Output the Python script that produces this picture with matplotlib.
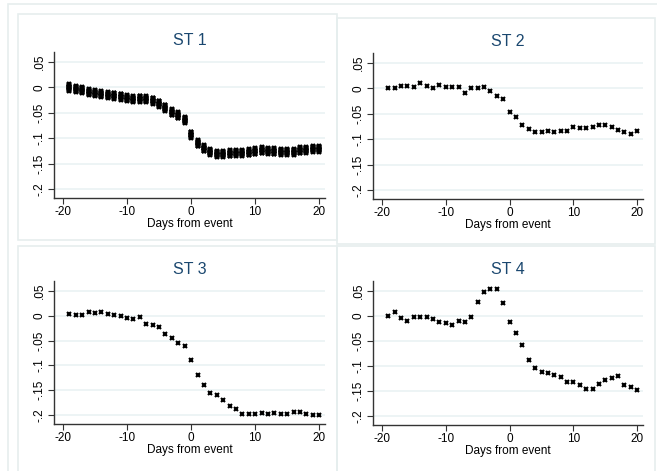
import matplotlib
matplotlib.use("Agg")
import matplotlib.pyplot as plt
from matplotlib.patches import Rectangle
import numpy as np

plt.rcParams['font.family'] = ['Liberation Sans', 'DejaVu Sans']

days = list(range(-19, 21))

st1 = [0.0, -0.003, -0.005, -0.009, -0.011, -0.013, -0.015, -0.016, -0.018, -0.021,
       -0.023, -0.022, -0.023, -0.026, -0.032, -0.040, -0.049, -0.055, -0.064, -0.093,
       -0.110, -0.120, -0.127, -0.131, -0.131, -0.130, -0.129, -0.129, -0.128, -0.126,
       -0.124, -0.125, -0.126, -0.127, -0.127, -0.127, -0.124, -0.123, -0.121, -0.121]
# ST 1 has several overlapping estimates per day
st1_spread = [-0.006, -0.0045, -0.003, -0.0015, 0.0, 0.0015, 0.003, 0.0045, 0.006]

st2 = [0.0, 0.001, 0.005, 0.004, 0.003, 0.010, 0.005, 0.0, 0.007, 0.003,
       0.002, 0.002, -0.008, 0.0, 0.0, 0.002, -0.005, -0.014, -0.021, -0.046,
       -0.056, -0.073, -0.080, -0.085, -0.085, -0.083, -0.085, -0.084, -0.083, -0.076,
       -0.077, -0.077, -0.075, -0.073, -0.072, -0.076, -0.082, -0.086, -0.089, -0.084]

st3 = [0.003, 0.002, 0.002, 0.007, 0.005, 0.008, 0.004, 0.001, -0.001, -0.005,
       -0.006, -0.003, -0.016, -0.019, -0.022, -0.036, -0.044, -0.055, -0.061, -0.089,
       -0.119, -0.140, -0.156, -0.160, -0.170, -0.182, -0.187, -0.198, -0.197, -0.197,
       -0.195, -0.197, -0.195, -0.198, -0.197, -0.193, -0.194, -0.197, -0.200, -0.200]

st4 = [0.001, 0.008, -0.003, -0.009, -0.001, -0.001, -0.001, -0.005, -0.011, -0.013,
       -0.017, -0.009, -0.011, -0.002, 0.029, 0.048, 0.054, 0.054, 0.026, -0.011,
       -0.033, -0.057, -0.087, -0.103, -0.112, -0.114, -0.118, -0.121, -0.131, -0.131,
       -0.137, -0.146, -0.146, -0.135, -0.128, -0.124, -0.120, -0.137, -0.141, -0.148]

titles = ["ST 1", "ST 2", "ST 3", "ST 4"]
xticks = [-20, -10, 0, 10, 20]
yticks = [-0.2, -0.15, -0.1, -0.05, 0, 0.05]
ytick_labels = ["-.2", "-.15", "-.1", "-.05", "0", ".05"]

W, H = 657, 471
fig = plt.figure(figsize=(W / 100, H / 100), dpi=100)
fig.patch.set_facecolor("white")

frame_col = "#e6eeee"
grid_col = "#eaf2f3"
title_col = "#1a476f"


def px_rect(x0, y0, x1, y1):
    # pixel coords from top-left -> figure fraction
    return [x0 / W, 1 - y1 / H, (x1 - x0) / W, (y1 - y0) / H]


# outer frame and panel frames
for (x0, y0, x1, y1) in [(8, 4, 660, 480), (18, 14, 337, 240), (337, 18, 655, 244),
                         (18, 246, 337, 480), (337, 246, 655, 480)]:
    l, b, w, h = px_rect(x0, y0, x1, y1)
    fig.patches.append(Rectangle((l, b), w, h, transform=fig.transFigure,
                                 fill=False, edgecolor=frame_col, linewidth=1.2))

axes_px = [(54, 52, 325, 198), (373, 53, 643, 199),
           (54, 281, 325, 424), (373, 281, 643, 425)]
series = [None, st2, st3, st4]

for i, (box, title) in enumerate(zip(axes_px, titles)):
    ax = fig.add_axes(px_rect(*box))
    ax.set_facecolor("white")
    if i == 0:
        for off in st1_spread:
            ax.plot(days, np.array(st1) + off, linestyle="none", marker="x",
                    color="black", markersize=3.4, markeredgewidth=1.7)
    else:
        ax.plot(days, series[i], linestyle="none", marker="x", color="black",
                markersize=3.4, markeredgewidth=1.5)
    ax.set_xlim(-21.4, 20.9)
    ax.set_ylim(-0.218, 0.07)
    ax.set_xticks(xticks)
    ax.set_xticklabels([str(t) for t in xticks])
    ax.set_yticks(yticks)
    ax.set_yticklabels(ytick_labels, rotation=90, va="center")
    ax.grid(axis="y", color=grid_col, linewidth=1.2)
    ax.set_axisbelow(True)
    for s in ["top", "right"]:
        ax.spines[s].set_visible(False)
    for s in ["left", "bottom"]:
        ax.spines[s].set_color("#333333")
        ax.spines[s].set_linewidth(1.0)
    ax.tick_params(axis="both", labelsize=8.5, length=4, width=0.8,
                   color="#333333", pad=2)
    ax.set_xlabel("Days from event", fontsize=8.5, labelpad=0)
    ax.set_title(title, fontsize=11.5, color=title_col, pad=5)

fig.savefig("out.png", dpi=100, facecolor="white")
